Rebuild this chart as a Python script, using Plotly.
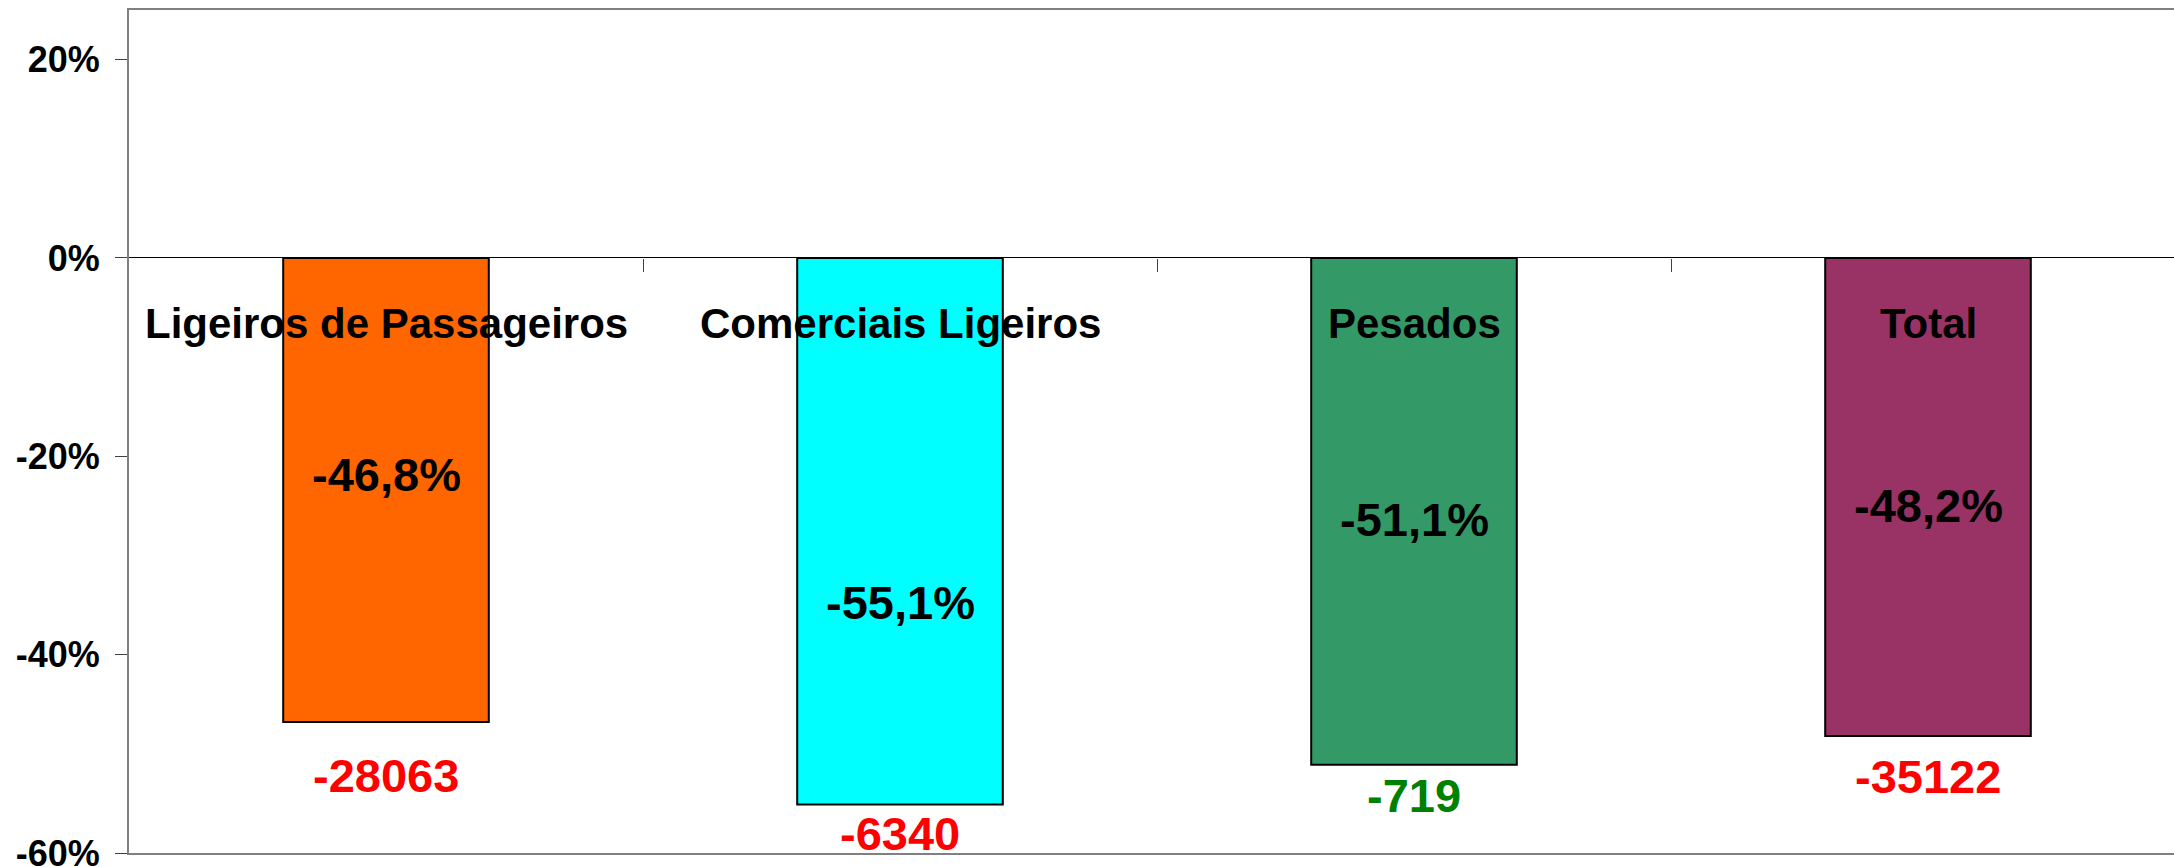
import plotly.graph_objects as go

categories = ["Ligeiros de Passageiros", "Comerciais Ligeiros", "Pesados", "Total"]
pct_change = [-46.8, -55.1, -51.1, -48.2]
abs_change = [-28063, -6340, -719, -35122]
abs_colors = ["#FF0000", "#FF0000", "#008000", "#FF0000"]
bar_colors = ["#FF6600", "#00FFFF", "#339966", "#993366"]
pct_label_y = [-21.8, -34.7, -26.4, -25.0]
abs_label_y = [-52.2, -58.0, -54.2, -52.3]
cat_label_y = -6.6
y_ticks = [-60, -40, -20, 0, 20]
y_range = [-60, 25]

FONT = "Liberation Sans, Arial, sans-serif"
W, H = 2174, 867
ML, MT, MB = 129, 10, 14
x = list(range(len(categories)))

fig = go.Figure()
fig.add_trace(go.Bar(
    x=x, y=pct_change, width=0.4,
    marker=dict(color=bar_colors, line=dict(color="#000000", width=2)),
    hoverinfo="skip", showlegend=False,
))

ann = []
for i, c in enumerate(categories):
    ann.append(dict(x=i, y=cat_label_y, text=c, showarrow=False,
                    font=dict(family=FONT, size=42, color="#000000", weight="bold"),
                    xanchor="center", yanchor="middle"))
    ann.append(dict(x=i, y=pct_label_y[i],
                    text=f"{pct_change[i]:.1f}".replace(".", ",") + "%",
                    showarrow=False,
                    font=dict(family=FONT, size=47, color="#000000", weight="bold"),
                    xanchor="center", yanchor="middle"))
    ann.append(dict(x=i, y=abs_label_y[i], text=str(abs_change[i]), showarrow=False,
                    font=dict(family=FONT, size=47, color=abs_colors[i], weight="bold"),
                    xanchor="center", yanchor="middle"))

plot_w = W - ML
cat_px = 514
x_range = [-0.5, -0.5 + plot_w / cat_px]
zero_pos = (0 - y_range[0]) / (y_range[1] - y_range[0])

fig.update_layout(
    width=W, height=H,
    margin=dict(l=ML, r=0, t=MT, b=MB, pad=0, autoexpand=False),
    paper_bgcolor="#FFFFFF", plot_bgcolor="#FFFFFF",
    annotations=ann,
    xaxis=dict(range=x_range, showgrid=False, zeroline=False, showticklabels=False,
               showline=True, linecolor="#808080", linewidth=2, mirror=True, ticks="",
               automargin=False),
    xaxis2=dict(range=x_range, overlaying="x", anchor="free", position=zero_pos,
                side="bottom", showgrid=False, zeroline=False, showline=False,
                showticklabels=False, ticks="outside", ticklen=13, tickwidth=1,
                tickcolor="#404040", tickvals=[0.5, 1.5, 2.5], automargin=False),
    yaxis=dict(range=y_range, tickvals=y_ticks, ticktext=[f"{v}%" for v in y_ticks],
               showgrid=False, zeroline=True, zerolinecolor="#000000", zerolinewidth=1,
               showline=True, linecolor="#808080", linewidth=2,
               ticks="outside", ticklen=12, tickwidth=1, tickcolor="#404040",
               ticklabeloverflow="allow", automargin=False, ticklabelstandoff=8,
               tickfont=dict(family=FONT, size=36, color="#000000", weight="bold")),
)
# invisible trace to activate xaxis2
fig.add_trace(go.Scatter(x=[x_range[0]], y=[0], xaxis="x2", mode="markers",
                         marker=dict(opacity=0), hoverinfo="skip", showlegend=False))

fig.write_html("out.html", config={"displayModeBar": False},
               post_script="document.body.style.margin='0';document.body.style.overflow='hidden';")
